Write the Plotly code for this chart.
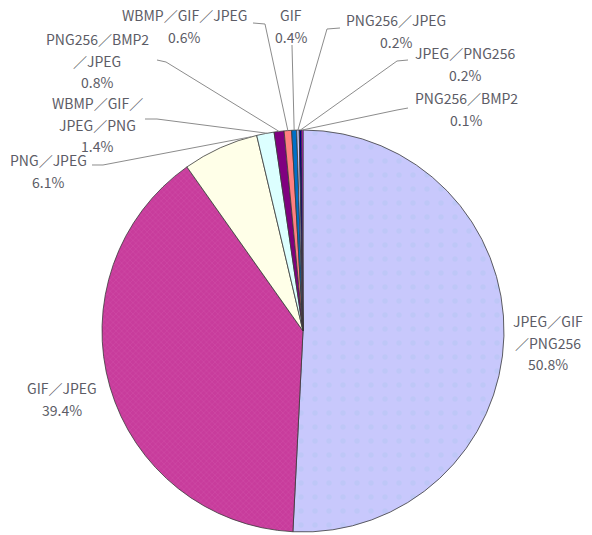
import math
import plotly.graph_objects as go

# ---- data ----
categories = ["JPEG／GIF／PNG256", "GIF／JPEG", "PNG／JPEG", "WBMP／GIF／JPEG／PNG",
              "PNG256／BMP2／JPEG", "WBMP／GIF／JPEG", "GIF", "PNG256／JPEG",
              "JPEG／PNG256", "PNG256／BMP2"]
shares = [50.8, 39.4, 6.1, 1.4, 0.8, 0.6, 0.4, 0.2, 0.2, 0.1]
label_lines = [["JPEG／GIF", "／PNG256"], ["GIF／JPEG"], ["PNG／JPEG"],
               ["WBMP／GIF／", "JPEG／PNG"], ["PNG256／BMP2", "／JPEG"],
               ["WBMP／GIF／JPEG"], ["GIF"], ["PNG256／JPEG"],
               ["JPEG／PNG256"], ["PNG256／BMP2"]]

# ---- style / layout ----
W, H = 592, 535
colors = ["#c8c8fc", "#c83c9c", "#ffffe8", "#dcffff", "#800080",
          "#ff8080", "#0070c8", "#ccccff", "#000080", "#ff00ff"]
CX, CY, R = 303, 331, 201
# label block: (center x, first line y) in pixels from top-left
label_pos = [(548, 321), (62, 388), (48, 160), (97, 103), (97, 39),
             (184, 15), (291, 15), (396, 20), (465, 53), (466, 98)]
LINE_STEP = 21.5
# leader line: label-side points (pixels) and fraction along slice for the pie end
leaders = {2: ([(92, 165), (103, 165)], 0.93),
           3: ([(145, 119), (157, 119)], 0.6),
           4: ([(157, 60), (166, 62)], 0.5),
           5: ([(253, 23), (265, 24)], 0.5),
           6: ([(292, 45)], 0.5),
           7: ([(340, 28), (327, 29)], 0.5),
           8: ([(408, 60), (397, 61)], 0.5),
           9: ([(408, 108), (397, 110)], 0.5)}

def px(x):
    return x / W

def py(y):
    return 1 - y / H

fig = go.Figure()
fig.add_trace(go.Pie(
    labels=categories, values=shares, sort=False, direction="clockwise",
    rotation=0, textinfo="none", hoverinfo="label+percent",
    marker=dict(colors=colors, line=dict(color="#3a3a3a", width=0.8),
                pattern=dict(shape=[".", "x", "", "", "", "", "", "", "", ""],
                             fillmode="overlay",
                             fgcolor=["#b4c6f2", "#d460b0"] + ["#000000"] * 8,
                             size=[14, 4] + [8] * 8,
                             solidity=[0.12, 0.25] + [0.2] * 8)),
    domain=dict(x=[px(CX - R), px(CX + R)], y=[py(CY + R), py(CY - R)]),
    showlegend=False,
))

annotations = []
total = sum(shares)
for i, (lines, (lx, ly)) in enumerate(zip(label_lines, label_pos)):
    texts = lines + [f"{shares[i]:.1f}%"]
    for k, t in enumerate(texts):
        annotations.append(dict(
            x=px(lx), y=py(ly + k * LINE_STEP), xref="paper", yref="paper",
            text=t, showarrow=False, xanchor="center", yanchor="middle",
            font=dict(family="Noto Sans CJK JP", size=14, color="#5c5c66")))

shapes = []
cum = 0.0
starts = []
for v in shares:
    starts.append(cum)
    cum += v
for i, (pts, f) in leaders.items():
    frac = (starts[i] + f * shares[i]) / total
    th = 2 * math.pi * frac
    ex, ey = CX + R * math.sin(th), CY - R * math.cos(th)
    allp = pts + [(ex, ey)]
    path = "M " + " L ".join(f"{px(x):.5f},{py(y):.5f}" for x, y in allp)
    shapes.append(dict(type="path", path=path, xref="paper", yref="paper",
                       line=dict(color="#8c8c8c", width=1)))

fig.update_layout(width=W, height=H, margin=dict(l=0, r=0, t=0, b=0),
                  paper_bgcolor="white", plot_bgcolor="white",
                  annotations=annotations, shapes=shapes)
fig.write_html("out.html", config={"displayModeBar": False},
               post_script="document.body.style.margin='0px';document.body.style.overflow='hidden';")
